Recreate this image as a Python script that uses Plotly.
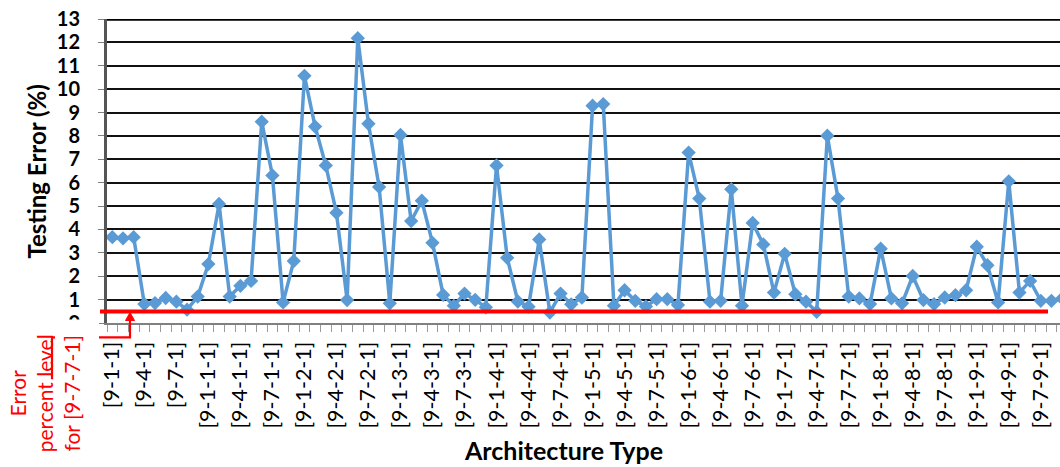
import plotly.graph_objects as go

# ---------------- data ----------------
categories = [f"[9-{a}-1]" for a in range(1, 10)] + \
             [f"[9-{a}-{b}-1]" for b in range(1, 10) for a in range(1, 10)]

testing_error = [
    3.67, 3.62, 3.67, 0.81, 0.85, 1.07, 0.91, 0.57, 1.13, 2.52, 5.09, 1.13, 1.59, 1.80, 8.61,
    6.31, 0.88, 2.65, 10.57, 8.40, 6.74, 4.71, 0.98, 12.18, 8.52, 5.82, 0.84, 8.04, 4.36, 5.23,
    3.43, 1.20, 0.74, 1.26, 0.99, 0.67, 6.74, 2.79, 0.92, 0.70, 3.57, 0.45, 1.26, 0.80, 1.09,
    9.29, 9.36, 0.74, 1.40, 0.95, 0.71, 1.02, 1.02, 0.77, 7.29, 5.32, 0.91, 0.95, 5.72, 0.74,
    4.28, 3.36, 1.30, 2.96, 1.23, 0.91, 0.48, 8.01, 5.32, 1.13, 1.05, 0.81, 3.18, 1.05, 0.84,
    2.01, 0.98, 0.81, 1.09, 1.19, 1.40, 3.26, 2.47, 0.88, 6.06, 1.30, 1.80, 0.95, 0.95, 1.05,
]

tick_labels = [c if i % 3 == 0 else "" for i, c in enumerate(categories)]
y_ticks = list(range(0, 14))

error_level = 0.49
error_note = ["Error", "percent level", "for [9-7-7-1]"]

x_title = "Architecture Type"
y_title = "Testing Error (%)"

# ---------------- layout helpers ----------------
W, H = 1060, 467
ML, MR, MT, MB = 107, 0, 18.5, 143.5
PW, PH = W - ML - MR, H - MT - MB


def px(x):
    return (x - ML) / PW


def py(y):
    return (H - MB - y) / PH


BLUE = "#5B9BD5"
RED = "#FF0000"
FONT = "Lato"

fig = go.Figure()
fig.add_trace(go.Scatter(
    x=categories, y=testing_error, mode="lines+markers",
    line=dict(color=BLUE, width=3.5),
    marker=dict(symbol="diamond", size=11, color=BLUE),
    showlegend=False, hoverinfo="x+y",
))

fig.update_layout(
    width=W, height=H,
    margin=dict(l=ML, r=MR, t=MT, b=MB, pad=0),
    paper_bgcolor="white", plot_bgcolor="white",
    font=dict(family=FONT, color="black"),
    xaxis=dict(
        type="category", range=[-0.5, 88.8],
        tickmode="array", tickvals=categories, ticktext=tick_labels,
        tickson="boundaries", ticks="outside", ticklen=7, tickwidth=1, tickcolor="#9a9a9a",
        tickangle=-90, tickfont=dict(family=FONT, size=21.5, color="black"),
        ticklabelstandoff=8,
        showline=True, linecolor="#808080", linewidth=2,
        showgrid=False, zeroline=False,
    ),
    yaxis=dict(
        range=[0, 13], tickmode="array", tickvals=y_ticks,
        tickfont=dict(family=FONT, size=20, color="black", weight="bold"),
        ticks="outside", ticklen=6, tickcolor="#808080",
        ticklabelstandoff=14,
        showline=True, linecolor="#555555", linewidth=3,
        showgrid=True, gridcolor="#111111", gridwidth=1.6,
        zeroline=False,
    ),
)

shapes = [
    # thick top border
    dict(type="line", xref="paper", yref="y", x0=0, x1=1, y0=13, y1=13,
         line=dict(color="black", width=3.5), layer="above"),
    # red reference level
    dict(type="line", xref="paper", yref="y", x0=px(100), x1=px(1048),
         y0=error_level, y1=error_level, line=dict(color=RED, width=4), layer="above"),
    # connector from the note to the line
    dict(type="path", xref="paper", yref="paper",
         path=f"M {px(52)},{py(380)} L {px(52)},{py(338)} L {px(130)},{py(338)} L {px(130)},{py(318)}",
         line=dict(color=RED, width=2.2), layer="above"),
    dict(type="path", xref="paper", yref="paper",
         path=f"M {px(125.5)},{py(321)} L {px(130)},{py(313)} L {px(134.5)},{py(321)} Z",
         line=dict(color=RED, width=1), fillcolor=RED, layer="above"),
    # partially hidden zero label
    dict(type="rect", xref="paper", yref="paper", x0=px(55), x1=px(99), y0=py(320), y1=py(340),
         line=dict(width=0), fillcolor="white", layer="above"),
]
fig.update_layout(shapes=shapes)

fig.add_annotation(x=px(36), y=py(171.5), xref="paper", yref="paper", text=y_title,
                   textangle=-90, showarrow=False, xanchor="center", yanchor="middle",
                   font=dict(family=FONT, size=24, color="black", weight="bold"))
fig.add_annotation(x=px(563), y=py(451), xref="paper", yref="paper", text=x_title,
                   showarrow=False, xanchor="center", yanchor="middle",
                   font=dict(family=FONT, size=25, color="black", weight="bold"))
fig.add_annotation(x=px(45), y=py(394), xref="paper", yref="paper", text="<br>".join(error_note),
                   textangle=-90, showarrow=False, xanchor="center", yanchor="middle", align="center",
                   font=dict(family=FONT, size=21, color=RED))

fig.write_html("out.html", config={"displayModeBar": False},
               post_script="document.body.style.margin='0';")
